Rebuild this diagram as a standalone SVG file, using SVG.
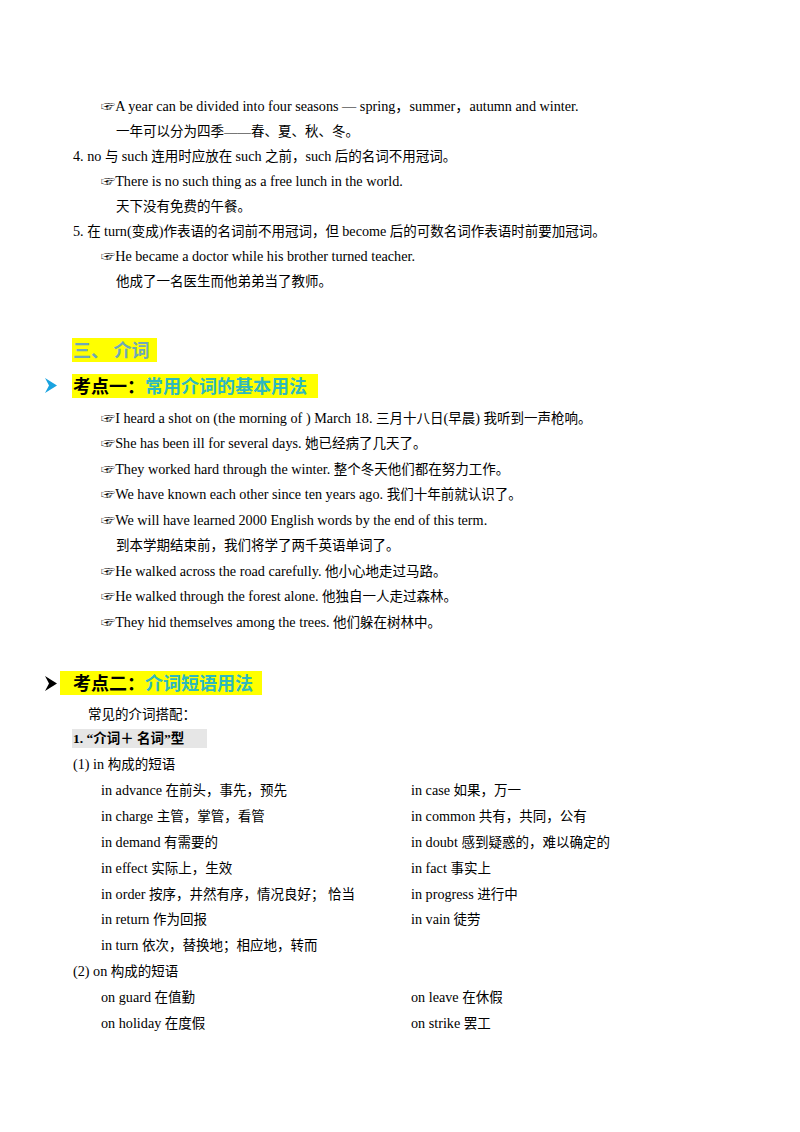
<svg xmlns="http://www.w3.org/2000/svg" width="800" height="1132" viewBox="0 0 800 1132">
<style>
text{font-family:"Liberation Serif","Noto Sans CJK SC",serif;font-size:13.5px;fill:#000}
.e{font-size:14.2px}
.h{font-size:18px;font-weight:bold}
.t{fill:#2EB8C0}
.g{fill:#6FA8B8}
.b{font-weight:bold}
</style>
<rect width="800" height="1132" fill="#fff"/>
<text x="101" y="111"><tspan class="e">☞A year can be divided into four seasons — spring，summer，autumn and winter.</tspan></text>
<text x="116" y="136">一年可以分为四季——春、夏、秋、冬。</text>
<text x="73" y="161"><tspan class="e">4. no </tspan>与 <tspan class="e">such</tspan> 连用时应放在 <tspan class="e">such</tspan> 之前，<tspan class="e">such</tspan> 后的名词不用冠词。</text>
<text x="101" y="186" class="e">☞There is no such thing as a free lunch in the world.</text>
<text x="116" y="211">天下没有免费的午餐。</text>
<text x="73" y="236"><tspan class="e">5.  </tspan>在 <tspan class="e">turn(</tspan>变成<tspan class="e">)</tspan>作表语的名词前不用冠词，但 <tspan class="e">become</tspan> 后的可数名词作表语时前要加冠词。</text>
<text x="101" y="261" class="e">☞He became a doctor while his brother turned teacher.</text>
<text x="116" y="286">他成了一名医生而他弟弟当了教师。</text>
<rect x="72" y="338" width="85" height="24" fill="#FFFF00"/>
<text x="73" y="357" class="h g">三、  介词</text>
<path d="M45 378 L57 385.5 L45 393 L49 385.5 Z" fill="#1AA3E0"/>
<rect x="72" y="374" width="246" height="24" fill="#FFFF00"/>
<text x="73" y="393" class="h">考点一：<tspan class="t">常用介词的基本用法</tspan></text>
<text x="101" y="423"><tspan class="e">☞I heard a shot on (the morning of )  March 18. </tspan>三月十八日<tspan class="e">(</tspan>早晨<tspan class="e">) </tspan>我听到一声枪响。</text>
<text x="101" y="448"><tspan class="e">☞She has been ill for several days. </tspan>她已经病了几天了。</text>
<text x="101" y="474"><tspan class="e">☞They worked hard through the winter. </tspan>整个冬天他们都在努力工作。</text>
<text x="101" y="499"><tspan class="e">☞We have known each other since ten years ago. </tspan>我们十年前就认识了。</text>
<text x="101" y="525" class="e">☞We will have learned 2000 English words by the end of this term.</text>
<text x="116" y="550">到本学期结束前，我们将学了两千英语单词了。</text>
<text x="101" y="576"><tspan class="e">☞He walked across the road carefully. </tspan>他小心地走过马路。</text>
<text x="101" y="601"><tspan class="e">☞He walked through the forest alone. </tspan>他独自一人走过森林。</text>
<text x="101" y="627"><tspan class="e">☞They hid themselves among the trees.  </tspan>他们躲在树林中。</text>
<path d="M45 676 L57 683.5 L45 691 L49 683.5 Z" fill="#000"/>
<rect x="60" y="671" width="202" height="24" fill="#FFFF00"/>
<text x="73" y="690" class="h">考点二：<tspan class="t">介词短语用法</tspan></text>
<text x="88" y="719">常见的介词搭配：</text>
<rect x="72" y="729" width="135" height="19" fill="#E6E6E6"/>
<text x="73" y="743" class="b">1. “介词＋ 名词”型</text>
<text x="73" y="769"><tspan class="e">(1) in  </tspan>构成的短语</text>
<text x="101" y="795"><tspan class="e">in advance  </tspan>在前头，事先，预先</text>
<text x="411" y="795"><tspan class="e">in case  </tspan>如果，万一</text>
<text x="101" y="821"><tspan class="e">in charge </tspan>主管，掌管，看管</text>
<text x="411" y="821"><tspan class="e">in common </tspan>共有，共同，公有</text>
<text x="101" y="847"><tspan class="e">in demand </tspan>有需要的</text>
<text x="411" y="847"><tspan class="e">in doubt  </tspan>感到疑惑的，难以确定的</text>
<text x="101" y="873"><tspan class="e">in effect </tspan>实际上，生效</text>
<text x="411" y="873"><tspan class="e">in fact </tspan>事实上</text>
<text x="101" y="899"><tspan class="e">in order </tspan>按序，井然有序，情况良好；  恰当</text>
<text x="411" y="899"><tspan class="e">in progress </tspan>进行中</text>
<text x="101" y="924"><tspan class="e">in return </tspan>作为回报</text>
<text x="411" y="924"><tspan class="e">in vain </tspan>徒劳</text>
<text x="101" y="950"><tspan class="e">in turn </tspan>依次，替换地；相应地，转而</text>
<text x="73" y="976"><tspan class="e">(2) on </tspan>构成的短语</text>
<text x="101" y="1002"><tspan class="e">on guard  </tspan>在值勤</text>
<text x="411" y="1002"><tspan class="e">on leave </tspan>在休假</text>
<text x="101" y="1028"><tspan class="e">on holiday </tspan>在度假</text>
<text x="411" y="1028"><tspan class="e">on strike </tspan>罢工</text>
</svg>
